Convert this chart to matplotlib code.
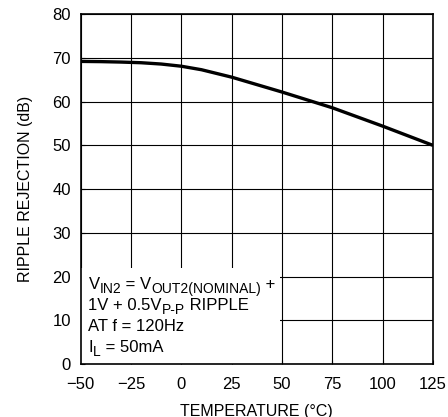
import matplotlib
matplotlib.use('Agg')
import matplotlib.pyplot as plt
from matplotlib.patches import Rectangle
from matplotlib.transforms import offset_copy

# datos
temperatura = [-50, -40, -30, -20, -10, 0, 10, 25, 50, 75, 100, 125]
rechazo = [69.2, 69.15, 69.05, 68.9, 68.6, 68.1, 67.3, 65.6, 62.2, 58.6, 54.4, 50.0]

x_ticks = [-50, -25, 0, 25, 50, 75, 100, 125]
x_labels = ['\u221250', '\u221225', '0', '25', '50', '75', '100', '125']
y_ticks = [0, 10, 20, 30, 40, 50, 60, 70, 80]

# lineas de la nota: (texto, es_subindice)
nota = [
    [('V', False), ('IN2', True), (' = V', False), ('OUT2(NOMINAL)', True), (' +', False)],
    [('1V + 0.5V', False), ('P-P', True), (' RIPPLE', False)],
    [('AT f = 120Hz', False)],
    [('I', False), ('L', True), (' = 50mA', False)],
]
nota_y = [17.1, 12.35, 7.6, 2.8]

plt.rcParams['font.family'] = ['Liberation Sans', 'DejaVu Sans']

fig = plt.figure(figsize=(4.48, 4.17), dpi=100)
ax = fig.add_axes([0.18, 0.127, 0.7865, 0.839])

ax.plot(temperatura, rechazo, color='black', linewidth=2.4, zorder=4, solid_capstyle='butt')

ax.set_xlim(-50, 125)
ax.set_ylim(0, 80)
ax.set_xticks(x_ticks)
ax.set_xticklabels(x_labels)
ax.set_yticks(y_ticks)
ax.grid(True, color='black', linewidth=0.8)
ax.set_axisbelow(True)
ax.tick_params(direction='in', length=3, width=0.8, labelsize=12)
ax.tick_params(axis='y', pad=7)
ax.tick_params(axis='x', pad=9)
for s in ax.spines.values():
    s.set_linewidth(1.2)

# caja blanca detras del texto
ax.add_patch(Rectangle((-50, 0), 98.8, 21.9, facecolor='white', edgecolor='none', zorder=2))

renderer = fig.canvas.get_renderer()
for partes, yv in zip(nota, nota_y):
    dx = 0.0
    for txt, sub in partes:
        size = 10 if sub else 12
        dy = -4 if sub else 0
        tr = offset_copy(ax.transData, fig=fig, x=dx, y=dy, units='dots')
        t = ax.text(-46.1, yv, txt, transform=tr, fontsize=size,
                    va='baseline', ha='left', zorder=5)
        dx += t.get_window_extent(renderer).width

ax.set_ylabel('RIPPLE REJECTION (dB)', fontsize=11.5, labelpad=14)
ax.set_xlabel('TEMPERATURE (\u00b0C)', fontsize=11.5, labelpad=9)

fig.savefig('out.png', dpi=100)
